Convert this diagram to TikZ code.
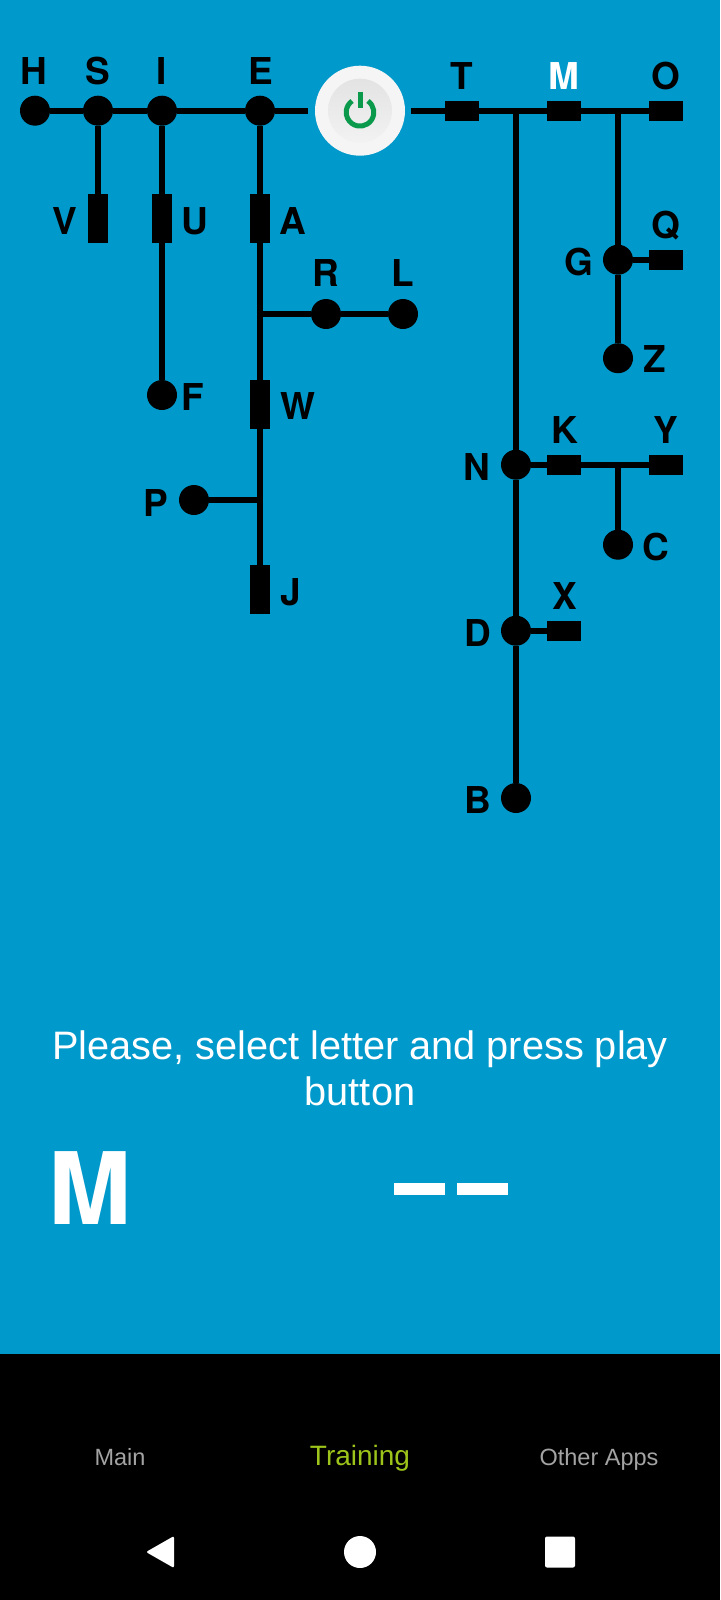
\documentclass[tikz,border=0pt]{standalone}
\usepackage{fontspec}
\setmainfont{Liberation Sans}
\newfontfamily\heavyfont{TeX Gyre Heros}
\usetikzlibrary{shapes,arrows,positioning}
\definecolor{panelblue}{HTML}{0099CC}
\definecolor{tabgreen}{HTML}{9DC41A}
\definecolor{tabgrey}{HTML}{A3A3A3}
\definecolor{powergreen}{HTML}{0B9A4C}

\begin{document}
\begin{tikzpicture}[x=1pt, y=-1pt, node distance=60pt]
    % Define styles
    \tikzstyle{junction} = [circle, fill=black, inner sep=0pt, minimum size=30pt]
    \tikzstyle{barh} = [rectangle, fill=black, inner sep=0pt, minimum width=34pt, minimum height=20pt]
    \tikzstyle{barv} = [rectangle, fill=black, inner sep=0pt, minimum width=20pt, minimum height=49pt]
    \tikzstyle{letter} = [inner sep=0pt, text height=26.7pt, text depth=0pt, font=\heavyfont\bfseries\fontsize{37}{37}\selectfont]
    \tikzstyle{wire} = [line width=6pt]
    \tikzstyle{prompt} = [inner sep=0pt, anchor=base, text=white, font=\fontsize{39.7}{39.7}\selectfont]
    \tikzstyle{tab} = [inner sep=0pt, anchor=base, text=tabgrey, font=\fontsize{23.5}{23.5}\selectfont]
    \tikzstyle{answerbar} = [rectangle, fill=white, inner sep=0pt, minimum width=51pt, minimum height=12pt]

    % Screen
    \useasboundingbox (0,0) rectangle (720,1600);
    \fill [panelblue] (0,0) rectangle (720,1354);
    \fill [black] (0,1354) rectangle (720,1600);

    % Top row, left of the button
    \node [junction] (hdot) at (35,110.7) {};
    \node [junction, right of=hdot, node distance=63pt] (sdot) {};
    \node [junction, right of=sdot, node distance=64pt] (idot) {};
    \node [junction, right of=idot, node distance=98pt] (edot) {};
    \node [circle, fill=black!4, inner sep=0pt, minimum size=90pt] (power) at (360,110.7) {};
    \node [circle, top color=black!11, bottom color=black!5, inner sep=0pt, minimum size=64pt] (powerface) at (360,110.7) {};
    \draw [powergreen, line width=5pt] (360,112.3) ++(55:13.8pt) arc [start angle=55, end angle=-235, radius=13.8pt];
    \draw [powergreen, line width=5pt] (360,92) -- (360,108);

    % Top row, right of the button
    \node [barh] (tbar) at (462,110.7) {};
    \node [barh, right of=tbar, node distance=102pt] (mbar) {};
    \node [barh, right of=mbar, node distance=102pt] (obar) {};
    \coordinate (ntop) at (516,110.7);
    \coordinate (gtop) at (618,110.7);

    % Left branches
    \node [barv, below of=sdot, node distance=108pt] (vbar) {};
    \node [barv, below of=idot, node distance=108pt] (ubar) {};
    \node [junction, below of=idot, node distance=284.3pt] (fdot) {};
    \node [barv, below of=edot, node distance=108pt] (abar) {};
    \node [barv, below of=abar, node distance=186pt] (wbar) {};
    \node [barv, below of=wbar, node distance=185pt] (jbar) {};
    \coordinate (rjoin) at (260,314);
    \node [junction] (rdot) at (326,314) {};
    \node [junction, right of=rdot, node distance=77pt] (ldot) {};
    \coordinate (pjoin) at (260,500);
    \node [junction] (pdot) at (194,500) {};

    % Right branches
    \node [junction] (gdot) at (618,259.7) {};
    \node [barh] (qbar) at (666,259.7) {};
    \node [junction, below of=gdot, node distance=98.5pt] (zdot) {};
    \node [junction] (ndot) at (516,464.7) {};
    \node [barh, right of=ndot, node distance=48pt] (kbar) {};
    \node [barh, right of=kbar, node distance=102pt] (ybar) {};
    \coordinate (cjoin) at (618,464.7);
    \node [junction] (cdot) at (618,544.7) {};
    \node [junction, below of=ndot, node distance=166pt] (ddot) {};
    \node [barh, right of=ddot, node distance=48pt] (xbar) {};
    \node [junction, below of=ddot, node distance=167.3pt] (bdot) {};

    % Letters
    \node [letter, above of=hdot, node distance=39.7pt, xshift=-1pt] (hlabel) {H};
    \node [letter, above of=sdot, node distance=39.7pt] (slabel) {S};
    \node [letter, above of=idot, node distance=39.7pt] (ilabel) {I};
    \node [letter, above of=edot, node distance=39.7pt, xshift=1pt] (elabel) {E};
    \node [letter, above of=tbar, node distance=34.7pt] (tlabel) {T};
    \node [letter, text=white, above of=mbar, node distance=34.7pt] (mlabel) {M};
    \node [letter, above of=obar, node distance=34.7pt] (olabel) {O};
    \node [letter, left of=vbar, node distance=33pt, yshift=-2.5pt] (vlabel) {V};
    \node [letter, right of=ubar, node distance=33pt, yshift=-2.5pt] (ulabel) {U};
    \node [letter, right of=abar, node distance=33pt, yshift=-2.5pt] (alabel) {A};
    \node [letter, above of=rdot, node distance=41pt] (rlabel) {R};
    \node [letter, above of=ldot, node distance=41pt] (llabel) {L};
    \node [letter, right of=fdot, node distance=31pt, yshift=-2pt] (flabel) {F};
    \node [letter, right of=wbar, node distance=38pt, yshift=-1.5pt] (wlabel) {W};
    \node [letter, left of=pdot, node distance=38pt, yshift=-3pt] (plabel) {P};
    \node [letter, right of=jbar, node distance=31pt, yshift=-2.5pt] (jlabel) {J};
    \node [letter, above of=qbar, node distance=34.7pt] (qlabel) {Q};
    \node [letter, left of=gdot, node distance=39pt, yshift=-2.3pt] (glabel) {G};
    \node [letter, right of=zdot, node distance=37pt, yshift=-1pt] (zlabel) {Z};
    \node [letter, left of=ndot, node distance=39pt, yshift=-2.3pt] (nlabel) {N};
    \node [letter, above of=kbar, node distance=34.7pt, xshift=1pt] (klabel) {K};
    \node [letter, above of=ybar, node distance=34.7pt] (ylabel) {Y};
    \node [letter, right of=cdot, node distance=38pt, yshift=-2.3pt] (clabel) {C};
    \node [letter, above of=xbar, node distance=34.7pt, xshift=1pt] (xlabel) {X};
    \node [letter, left of=ddot, node distance=38pt, yshift=-2.3pt] (dlabel) {D};
    \node [letter, left of=bdot, node distance=38pt, yshift=-2.3pt] (blabel) {B};

    % Wires
    \draw [wire] (hdot) -- (sdot);
    \draw [wire] (sdot) -- (idot);
    \draw [wire] (idot) -- (edot);
    \draw [wire, shorten >=7pt] (edot) -- (power);
    \draw [wire, shorten <=6pt] (power) -- (tbar);
    \draw [wire] (tbar) -- (mbar);
    \draw [wire] (mbar) -- (obar);
    \draw [wire] (sdot) -- (vbar);
    \draw [wire] (idot) -- (ubar);
    \draw [wire] (ubar) -- (fdot);
    \draw [wire] (edot) -- (abar);
    \draw [wire] (abar) -- (wbar);
    \draw [wire] (wbar) -- (jbar);
    \draw [wire] (rjoin) -- (rdot);
    \draw [wire] (rdot) -- (ldot);
    \draw [wire] (pjoin) -- (pdot);
    \draw [wire] (gtop) -- (gdot);
    \draw [wire] (gdot) -- (qbar);
    \draw [wire] (gdot) -- (zdot);
    \draw [wire] (ntop) -- (ndot);
    \draw [wire] (ndot) -- (kbar);
    \draw [wire] (kbar) -- (ybar);
    \draw [wire] (cjoin) -- (cdot);
    \draw [wire] (ndot) -- (ddot);
    \draw [wire] (ddot) -- (xbar);
    \draw [wire] (ddot) -- (bdot);

    % Prompt and answer
    \node [prompt] (promptone) at (360,1059) {Please, select letter and press play};
    \node [prompt] (prompttwo) at (360,1105.7) {button};
    \node [inner sep=0pt, anchor=base, text=white, font=\heavyfont\bfseries\fontsize{100}{100}\selectfont] (picked) at (90,1224) {M};
    \node [answerbar] (answerone) at (419.5,1189) {};
    \node [answerbar, right of=answerone, node distance=63pt] (answertwo) {};

    % Tabs and navigation keys
    \node [tab] (tabmain) at (120,1465) {Main};
    \node [tab, text=tabgreen, font=\fontsize{28}{28}\selectfont] (tabtrain) at (360,1465) {Training};
    \node [tab] (tabother) at (599,1465) {Other Apps};
    \fill [white, rounded corners=2pt] (146,1552) -- (174,1536) -- (174,1568) -- cycle;
    \node [circle, fill=white, inner sep=0pt, minimum size=32pt] (navhome) at (360,1552) {};
    \node [rectangle, fill=white, rounded corners=2pt, inner sep=0pt, minimum width=30pt, minimum height=31pt] (navrecent) at (560,1552) {};
\end{tikzpicture}
\end{document}
